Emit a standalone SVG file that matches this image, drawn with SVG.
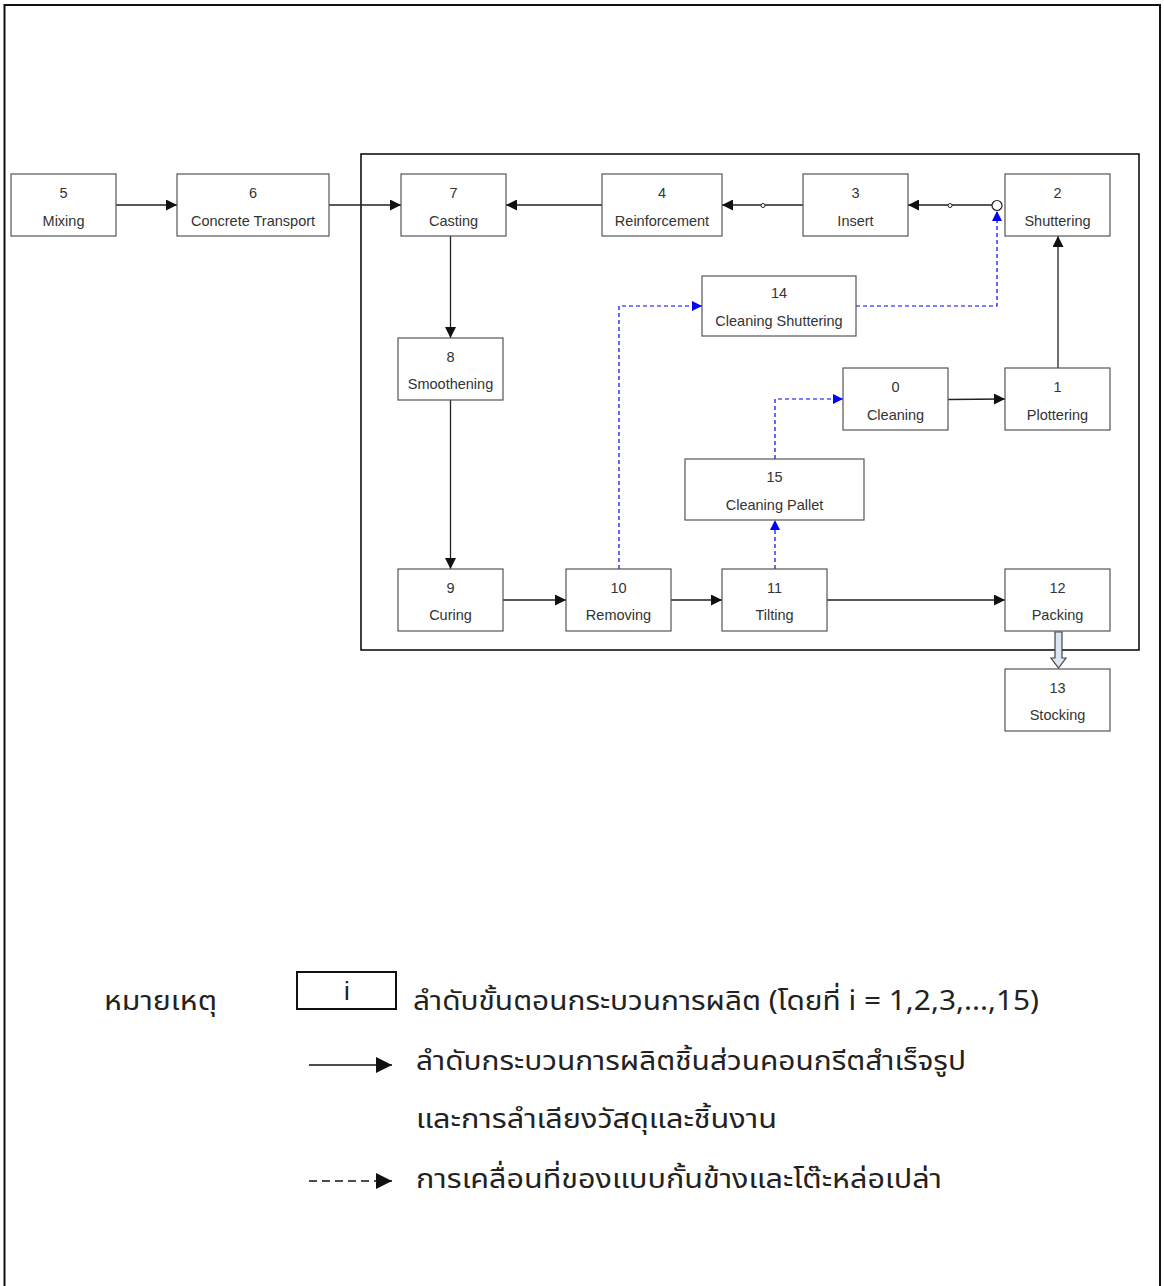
<svg xmlns="http://www.w3.org/2000/svg" width="1164" height="1286" viewBox="0 0 1164 1286">
<defs>
<style>
.node rect{fill:#fff;stroke:#555;stroke-width:1.2}
.node text{font-family:"Liberation Sans",Arial,sans-serif;font-size:14.5px;fill:#333;text-anchor:middle}
.c{fill:none;stroke:#222;stroke-width:1.3}
.d{fill:none;stroke:#0000ff;stroke-width:1.2;stroke-dasharray:4 3}
.th{font-family:"Noto Sans Thai","Noto Sans","Liberation Sans",sans-serif;font-size:27px;fill:#222}
</style>
<marker id="ah" viewBox="0 0 10 10" refX="10" refY="5" markerWidth="14" markerHeight="11" markerUnits="userSpaceOnUse" orient="auto"><path d="M0,0 L10,5 L0,10 Z" fill="#111"/></marker>
<marker id="bh" viewBox="0 0 10 10" refX="10" refY="5" markerWidth="13" markerHeight="10" markerUnits="userSpaceOnUse" orient="auto"><path d="M0,0 L10,5 L0,10 Z" fill="#0000ff"/></marker>
<marker id="lh" viewBox="0 0 10 10" refX="10" refY="5" markerWidth="16" markerHeight="16" markerUnits="userSpaceOnUse" orient="auto"><path d="M0,0 L10,5 L0,10 Z" fill="#111"/></marker>
</defs>
<rect width="1164" height="1286" fill="#fff"/>
<path d="M4.5,1290 V5 H1160 V1290" fill="none" stroke="#111" stroke-width="2"/>
<rect x="361" y="154" width="778" height="496" fill="none" stroke="#111" stroke-width="1.6"/>

<g id="connectors">
<line class="c" x1="116" y1="205" x2="177" y2="205" marker-end="url(#ah)"/>
<line class="c" x1="329" y1="205" x2="401" y2="205" marker-end="url(#ah)"/>
<line class="c" x1="602" y1="205" x2="506" y2="205" marker-end="url(#ah)"/>
<line class="c" x1="803" y1="205" x2="722" y2="205" marker-end="url(#ah)"/>
<circle cx="763" cy="205.5" r="2" fill="#fff" stroke="#222" stroke-width="1"/>
<line class="c" x1="992" y1="205" x2="908" y2="205" marker-end="url(#ah)"/>
<circle cx="950" cy="205.5" r="2" fill="#fff" stroke="#222" stroke-width="1"/>
<circle cx="997" cy="205.5" r="5" fill="#fff" stroke="#222" stroke-width="1.2"/>
<line class="c" x1="450.5" y1="236" x2="450.5" y2="338" marker-end="url(#ah)"/>
<line class="c" x1="450.5" y1="400" x2="450.5" y2="569" marker-end="url(#ah)"/>
<line class="c" x1="503" y1="600" x2="566" y2="600" marker-end="url(#ah)"/>
<line class="c" x1="671" y1="600" x2="722" y2="600" marker-end="url(#ah)"/>
<line class="c" x1="827" y1="600" x2="1005" y2="600" marker-end="url(#ah)"/>
<line class="c" x1="1058" y1="368" x2="1058" y2="236" marker-end="url(#ah)"/>
<line class="c" x1="948" y1="399.5" x2="1005" y2="399" marker-end="url(#ah)"/>
<path d="M1055,632 V658 H1051 L1058.5,668 L1066,658 H1062 V632 Z" fill="#dde6f3" stroke="#444" stroke-width="1.2"/>
<polyline class="d" points="619,569 619,306 702,306" marker-end="url(#bh)"/>
<polyline class="d" points="856,306 997,306 997,211" marker-end="url(#bh)"/>
<line class="d" x1="775" y1="569" x2="775" y2="520" marker-end="url(#bh)"/>
<polyline class="d" points="775,459 775,399 843,399" marker-end="url(#bh)"/>
</g>

<g id="n5" class="node"><rect x="11" y="174" width="105" height="62"/><text x="63.5" y="198">5</text><text x="63.5" y="226">Mixing</text></g>
<g id="n6" class="node"><rect x="177" y="174" width="152" height="62"/><text x="253" y="198">6</text><text x="253" y="226">Concrete Transport</text></g>
<g id="n7" class="node"><rect x="401" y="174" width="105" height="62"/><text x="453.5" y="198">7</text><text x="453.5" y="226">Casting</text></g>
<g id="n4" class="node"><rect x="602" y="174" width="120" height="62"/><text x="662" y="198">4</text><text x="662" y="226">Reinforcement</text></g>
<g id="n3" class="node"><rect x="803" y="174" width="105" height="62"/><text x="855.5" y="198">3</text><text x="855.5" y="226">Insert</text></g>
<g id="n2" class="node"><rect x="1005" y="174" width="105" height="62"/><text x="1057.5" y="198">2</text><text x="1057.5" y="226">Shuttering</text></g>
<g id="n14" class="node"><rect x="702" y="276" width="154" height="60"/><text x="779" y="298">14</text><text x="779" y="326">Cleaning Shuttering</text></g>
<g id="n8" class="node"><rect x="398" y="338" width="105" height="62"/><text x="450.5" y="362">8</text><text x="450.5" y="389">Smoothening</text></g>
<g id="n0" class="node"><rect x="843" y="368" width="105" height="62"/><text x="895.5" y="392">0</text><text x="895.5" y="420">Cleaning</text></g>
<g id="n1" class="node"><rect x="1005" y="368" width="105" height="62"/><text x="1057.5" y="392">1</text><text x="1057.5" y="420">Plottering</text></g>
<g id="n15" class="node"><rect x="685" y="459" width="179" height="61"/><text x="774.5" y="482">15</text><text x="774.5" y="510">Cleaning Pallet</text></g>
<g id="n9" class="node"><rect x="398" y="569" width="105" height="62"/><text x="450.5" y="593">9</text><text x="450.5" y="620">Curing</text></g>
<g id="n10" class="node"><rect x="566" y="569" width="105" height="62"/><text x="618.5" y="593">10</text><text x="618.5" y="620">Removing</text></g>
<g id="n11" class="node"><rect x="722" y="569" width="105" height="62"/><text x="774.5" y="593">11</text><text x="774.5" y="620">Tilting</text></g>
<g id="n12" class="node"><rect x="1005" y="569" width="105" height="62"/><text x="1057.5" y="593">12</text><text x="1057.5" y="620">Packing</text></g>
<g id="n13" class="node"><rect x="1005" y="669" width="105" height="62"/><text x="1057.5" y="693">13</text><text x="1057.5" y="720">Stocking</text></g>

<g id="legend">
<text class="th" x="104" y="1010" textLength="113" lengthAdjust="spacingAndGlyphs">หมายเหตุ</text>
<rect x="297" y="972" width="99" height="37" fill="#fff" stroke="#111" stroke-width="2"/>
<text x="347" y="1000" font-family="Liberation Sans, Arial, sans-serif" font-size="26" fill="#222" text-anchor="middle">i</text>
<text class="th" x="413" y="1010" textLength="626" lengthAdjust="spacingAndGlyphs">ลำดับขั้นตอนกระบวนการผลิต (โดยที่ i = 1,2,3,...,15)</text>
<line x1="309" y1="1065" x2="392" y2="1065" stroke="#111" stroke-width="1.5" marker-end="url(#lh)"/>
<text class="th" x="416" y="1070" textLength="550" lengthAdjust="spacingAndGlyphs">ลำดับกระบวนการผลิตชิ้นส่วนคอนกรีตสำเร็จรูป</text>
<text class="th" x="416" y="1128" textLength="361" lengthAdjust="spacingAndGlyphs">และการลำเลียงวัสดุและชิ้นงาน</text>
<line x1="309" y1="1181" x2="392" y2="1181" stroke="#111" stroke-width="1.5" stroke-dasharray="8 5" marker-end="url(#lh)"/>
<text class="th" x="416" y="1188" textLength="526" lengthAdjust="spacingAndGlyphs">การเคลื่อนที่ของแบบกั้นข้างและโต๊ะหล่อเปล่า</text>
</g>
</svg>
